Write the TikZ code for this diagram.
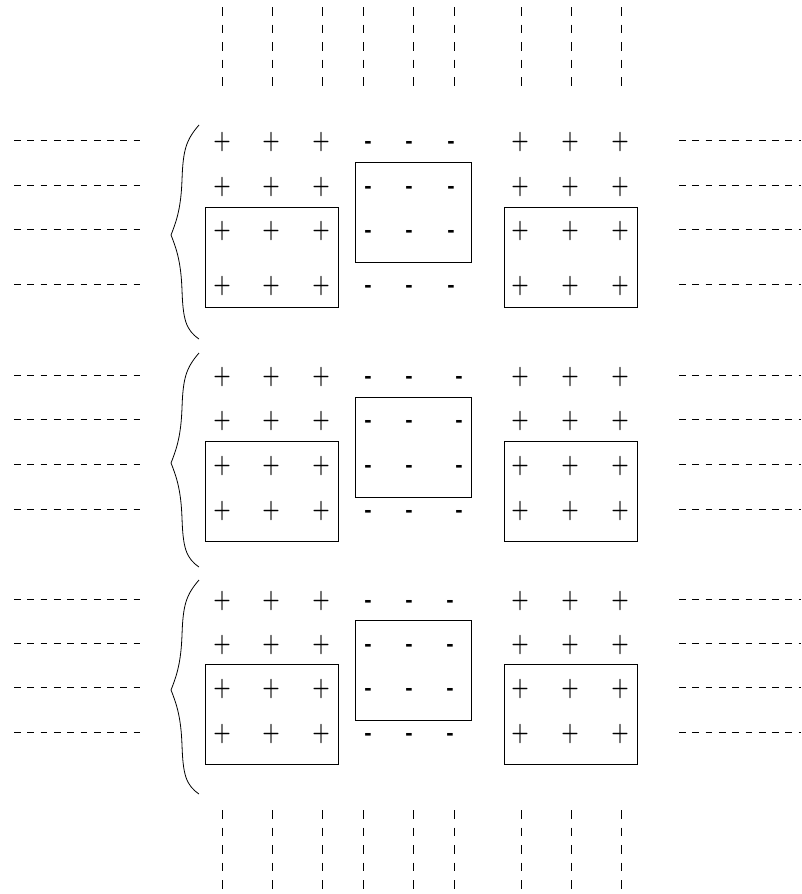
\documentclass[tikz,border=0pt]{standalone}
\usepackage{fontspec}
\usepackage{tikz}
\newfontfamily\signfont{Liberation Sans}

\begin{document}
\begin{tikzpicture}[x=1pt,y=-1pt,line width=0.8pt,
  plussign/.style={font=\bfseries\fontsize{20}{20}\selectfont,inner sep=0pt,anchor=base},
  minussign/.style={font=\signfont\bfseries\fontsize{22}{22}\selectfont,inner sep=0pt,anchor=base},
  hdash/.style={dash pattern=on 6.7pt off 6.6pt},
  vdash/.style={dash pattern=on 8.5pt off 9pt}]
\useasboundingbox (0,0) rectangle (801,894);
% vertical dashed lines, top and bottom
\foreach \x [count=\k] in {222,272,322,363,413,454,521,571,621} {
  \coordinate (t\k) at (\x,7);
  \coordinate (u\k) at (\x,87);
  \coordinate (b\k) at (\x,810);
  \coordinate (c\k) at (\x,889);
  \draw[vdash] (t\k) -- (u\k);
  \draw[vdash] (b\k) -- (c\k);
}
% three groups
\foreach \r/\ya/\yb/\yc/\yd/\mx/\mt/\bt/\bc in {1/142/187/231/286/451/162/207/235,
    2/377/421/466/511/459/397/441/463, 3/601/645/689/734/450/620/664/690} {
  \foreach \y [count=\i] in {\ya,\yb,\yc,\yd} {
    \foreach \x [count=\j] in {222,271,321,520,570,620}
      \node[plussign] (p\r\i\j) at (\x,\y+6.6) {\scalebox{1}[1.3]{+}};
    \foreach \x [count=\j] in {368,409,\mx}
      \node[minussign] (m\r\i\j) at (\x,\y+6) {-};
    \coordinate (la\r\i) at (14,\y-2);
    \coordinate (lb\r\i) at (141,\y-2);
    \coordinate (ra\r\i) at (679,\y-2);
    \coordinate (rb\r\i) at (801,\y-2);
    \draw[hdash] (la\r\i) -- (lb\r\i);
    \draw[hdash] (ra\r\i) -- (rb\r\i);
  }
  \draw (205,\bt) rectangle (338,\bt+100);
  \draw (504,\bt) rectangle (637,\bt+100);
  \draw (355,\mt) rectangle (471,\mt+100);
  % brace
  \draw (199,\bc-110) .. controls (186,\bc-95) and (183,\bc-85) .. (182,\bc-55)
    .. controls (181,\bc-28) and (177,\bc-15) .. (171,\bc)
    .. controls (177,\bc+15) and (181,\bc+28) .. (182,\bc+55)
    .. controls (183,\bc+85) and (186,\bc+95) .. (199,\bc+104);
}
\end{tikzpicture}
\end{document}
